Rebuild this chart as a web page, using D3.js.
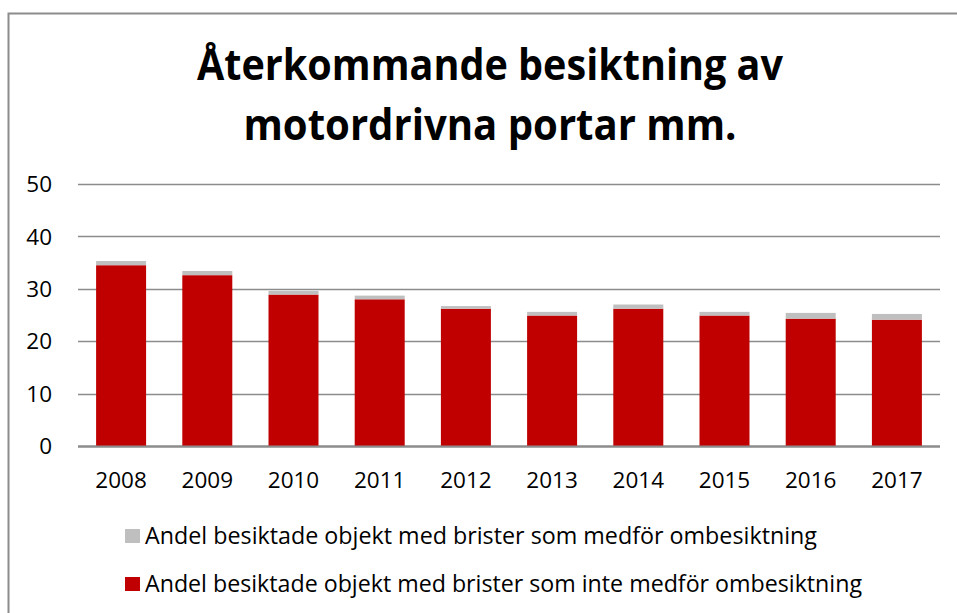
<!DOCTYPE html>
<html>
<head>
<meta charset="utf-8">
<script src="https://cdn.jsdelivr.net/npm/d3@7"></script>
<style>
  body { margin: 0; background: #fff; }
  svg { display: block; font-family: "Open Sans", "Noto Sans", sans-serif; }
</style>
</head>
<body>
<div id="chart"></div>
<script>
// Data
const years = ['2008', '2009', '2010', '2011', '2012', '2013', '2014', '2015', '2016', '2017'];
const utanOmbesiktning = [34.5, 32.6, 28.9, 28.0, 26.2, 24.9, 26.2, 24.9, 24.3, 24.1];
const medOmbesiktning = [0.8, 0.8, 0.7, 0.7, 0.5, 0.7, 0.8, 0.7, 1.1, 1.1];
const yTicks = [0, 10, 20, 30, 40, 50];
const titleLines = ['Återkommande besiktning av', 'motordrivna portar mm.'];
const legendLabels = [
  'Andel besiktade objekt med brister som medför ombesiktning',
  'Andel besiktade objekt med brister som inte medför ombesiktning'
];

const w = 957, h = 613;
const margin = { left: 78, right: 17, top: 184, bottom: 167 };
const red = '#c00000', grey = '#bfbfbf', lineCol = '#8c8c8c';

const svg = d3.select('#chart').append('svg')
  .attr('width', w)
  .attr('height', h);

// chart frame
svg.append('rect')
  .attr('x', 8.5).attr('y', 13.5)
  .attr('width', w).attr('height', h)
  .attr('fill', 'none')
  .attr('stroke', lineCol)
  .attr('stroke-width', 2);

// Title (squeezed to the width of the narrower original font)
const titleWidths = [586, 493];
svg.selectAll('.title')
  .data(titleLines)
  .join('text')
  .attr('class', 'title')
  .attr('x', 490)
  .attr('y', (d, i) => 80 + i * 60)
  .attr('text-anchor', 'middle')
  .attr('font-weight', 'bold')
  .attr('font-size', 43)
  .attr('fill', '#000')
  .attr('textLength', (d, i) => titleWidths[i])
  .attr('lengthAdjust', 'spacingAndGlyphs')
  .text(d => d);

const x = d3.scaleBand()
  .domain(years)
  .range([margin.left, w - margin.right])
  .paddingInner(0.42)
  .paddingOuter(0.21);

const y = d3.scaleLinear()
  .domain([0, 50])
  .range([h - margin.bottom, margin.top]);

// Gridlines
svg.append('g')
  .selectAll('line')
  .data(yTicks)
  .join('line')
  .attr('x1', margin.left)
  .attr('x2', w - margin.right)
  .attr('y1', d => Math.round(y(d)) + 0.5)
  .attr('y2', d => Math.round(y(d)) + 0.5)
  .attr('stroke', lineCol)
  .attr('stroke-width', d => d === 0 ? 2 : 1.3);

// Y axis labels
svg.append('g')
  .selectAll('text')
  .data(yTicks)
  .join('text')
  .attr('x', 52)
  .attr('y', d => y(d))
  .attr('dy', '0.36em')
  .attr('text-anchor', 'end')
  .attr('font-size', 22.5)
  .attr('fill', '#000')
  .text(d => d);

// X axis labels
svg.append('g')
  .selectAll('text')
  .data(years)
  .join('text')
  .attr('x', d => x(d) + x.bandwidth() / 2)
  .attr('y', 488)
  .attr('text-anchor', 'middle')
  .attr('font-size', 22.5)
  .attr('fill', '#000')
  .text(d => d);

// Stacked bars
const rows = years.map((yr, i) => ({ year: yr, red: utanOmbesiktning[i], grey: medOmbesiktning[i] }));
const stack = d3.stack().keys(['red', 'grey'])(rows);
const colors = { red: red, grey: grey };

svg.append('g')
  .selectAll('g')
  .data(stack)
  .join('g')
  .attr('fill', d => colors[d.key])
  .selectAll('rect')
  .data(d => d)
  .join('rect')
  .attr('x', d => x(d.data.year))
  .attr('y', d => y(d[1]))
  .attr('width', x.bandwidth())
  .attr('height', d => y(d[0]) - y(d[1]));

// redraw baseline over bars
svg.append('line')
  .attr('x1', margin.left).attr('x2', w - margin.right)
  .attr('y1', y(0) + 0.5).attr('y2', y(0) + 0.5)
  .attr('stroke', lineCol)
  .attr('stroke-width', 2);

// Legend
const legend = svg.append('g')
  .selectAll('g')
  .data(legendLabels)
  .join('g')
  .attr('transform', (d, i) => `translate(125,${529 + i * 48})`);

legend.append('rect')
  .attr('width', 15)
  .attr('height', 14)
  .attr('fill', (d, i) => i === 0 ? grey : red);

const legendWidths = [672, 717];
legend.append('text')
  .attr('x', 20)
  .attr('y', 15)
  .attr('font-size', 23)
  .attr('fill', '#000')
  .attr('textLength', (d, i) => legendWidths[i])
  .attr('lengthAdjust', 'spacingAndGlyphs')
  .text(d => d);
</script>
</body>
</html>
